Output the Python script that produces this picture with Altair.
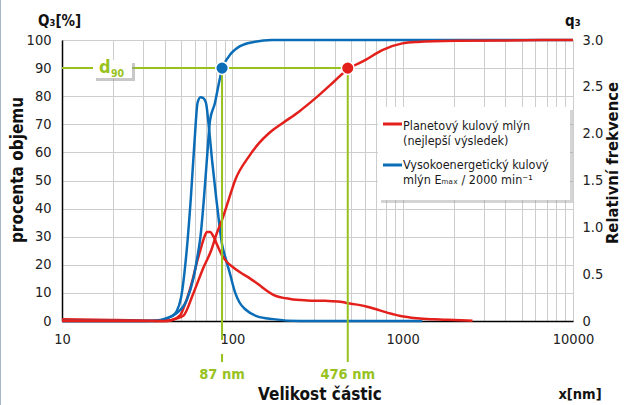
import altair as alt
import pandas as pd

# ---------------- data ----------------
# cumulative distribution Q3 [%]
blue_Q3_x = [10, 36, 41, 47, 54, 59, 62, 65, 68, 71, 74, 79, 83, 87, 95, 111, 136, 171, 10000]
blue_Q3_y = [0, 0, 1, 2.7, 7.5, 15, 22, 30, 43, 58, 71.5, 77.5, 84, 89.6, 94, 97.8, 99.4, 100, 100]

red_Q3_x = [10, 40, 44, 48, 52, 59, 68, 75, 81, 87, 95, 104, 125, 143, 164, 196, 246, 308, 386,
            476, 606, 759, 995, 1219, 2090, 10000]
red_Q3_y = [0, 0, 0.3, 1, 2.1, 9.8, 19.3, 25, 31.2, 36, 43, 50.2, 58.5, 63.2, 66.8, 70.3, 74.5,
            79.3, 84.6, 89.6, 92.9, 96.4, 98.8, 99.3, 99.7, 100]

# relative frequency q3
blue_q3_x = [10, 30, 38, 44, 47, 50, 54, 57, 60, 62.5, 65, 67.5, 70, 73, 76, 80, 83, 87, 91, 97,
             104, 110, 120, 140, 174, 250, 500, 1300]
blue_q3_y = [0, 0, 0.01, 0.05, 0.1, 0.25, 0.76, 1.3, 1.92, 2.33, 2.39, 2.38, 2.33, 2.05, 1.72,
             1.35, 1.1, 0.82, 0.68, 0.5, 0.3, 0.2, 0.12, 0.05, 0.02, 0, 0, 0]

red_q3_x = [10, 20, 30, 40, 44, 49.5, 52, 56, 59, 62, 65, 68, 71, 74, 77.6, 82, 87, 93, 100, 111,
            128, 140, 174, 219, 275, 350, 431, 476, 540, 619, 700, 776, 870, 972, 1219, 1527,
            2000, 2570]
red_q3_y = [0.02, 0.012, 0.005, 0.0, 0.01, 0.064, 0.15, 0.32, 0.47, 0.63, 0.76, 0.88, 0.95,
            0.95, 0.9, 0.8, 0.7, 0.63, 0.58, 0.52, 0.45, 0.4, 0.28, 0.235, 0.22, 0.215, 0.206,
            0.19, 0.175, 0.153, 0.125, 0.1, 0.075, 0.053, 0.029, 0.018, 0.01, 0.003]

d90_values = [87, 476]
d90_level = [90]
d90_labels = ["87 nm", "476 nm"]
x_ticks = [10, 100, 1000, 10000]
left_ticks = list(range(0, 101, 10))
right_ticks = [0, 0.5, 1.0, 1.5, 2.0, 2.5, 3.0]
legend_labels = ["Planetový kulový mlýn", "(nejlepší výsledek)",
                 "Vysokoenergetický kulový", "mlýn Eₘₐₓ / 2000 min⁻¹"]

# ---------------- style ----------------
RED = "#e3201b"
BLUE = "#0b6db7"
GREEN = "#97c21e"
GRID = "#cdcdcd"
FONT = "DejaVu Sans Condensed, DejaVu Sans, sans-serif"
W, H = 511, 281

grid_vals = [d * 10 ** k for k in range(1, 4) for d in range(1, 10)] + [10000]
xscale = alt.Scale(type="log", domain=[10, 10000], nice=False)
yL = alt.Scale(domain=[0, 100], nice=False, zero=True)
yR = alt.Scale(domain=[0, 3], nice=False, zero=True)

x_axis = alt.Axis(values=grid_vals, grid=True, gridColor=GRID, gridWidth=1, ticks=False,
                  domain=True, domainColor="#000000", domainWidth=1.5, format="d",
                  labelExpr="indexof([10,100,1000,10000], datum.value) >= 0 ? datum.label : ''",
                  labelOverlap=False, labelFlush=False, labelFont=FONT, labelFontSize=14.5,
                  labelColor="#222222", labelPadding=11, title=None)
yl_axis = alt.Axis(values=left_ticks, grid=True, gridColor=GRID, gridWidth=1, ticks=False,
                   domain=True, domainColor="#000000", domainWidth=1.5, labelFont=FONT,
                   labelFontSize=14.5, labelColor="#222222", labelPadding=11, title=None,
                   labelFlush=False, labelOverlap=False, tickCount=11)
yr_axis = alt.Axis(orient="right", values=right_ticks, grid=False, ticks=False, domain=False,
                   labelExpr="datum.value == 0 ? '0' : format(datum.value, '.1f')",
                   labelFont=FONT, labelFontSize=14.5, labelColor="#222222", labelPadding=9,
                   title=None, labelFlush=False, labelOverlap=False)


def line(xs, ys, color, yscale, yaxis, xaxis=x_axis):
    df = pd.DataFrame({"x": xs, "y": ys})
    return alt.Chart(df).mark_line(color=color, strokeWidth=2.5, interpolate="monotone").encode(
        x=alt.X("x:Q", scale=xscale, axis=xaxis),
        y=alt.Y("y:Q", scale=yscale, axis=yaxis),
    )


one = pd.DataFrame({"a": [0]})
Xs = lambda f: alt.X(f, scale=xscale, axis=x_axis)
Ys = lambda f: alt.Y(f, scale=yL, axis=yl_axis)

# green d90 guides
hdf = pd.DataFrame({"x1": [10], "x2": [d90_values[1]], "y": d90_level})
hline = alt.Chart(hdf).mark_rule(color=GREEN, strokeWidth=2).encode(
    x=Xs("x1:Q"), x2="x2:Q", y=Ys("y:Q"))
vdf = pd.DataFrame({"x": d90_values, "y": d90_level * 2, "lab": d90_labels})
vline87 = alt.Chart(vdf.iloc[[0]]).mark_rule(color=GREEN, strokeWidth=2).encode(
    x=Xs("x:Q"), y=Ys("y:Q"), y2=alt.value(300))
vline87b = alt.Chart(vdf.iloc[[0]]).mark_rule(color=GREEN, strokeWidth=2).encode(
    x=Xs("x:Q"), y=alt.value(314), y2=alt.value(322))
vline476 = alt.Chart(vdf.iloc[[1]]).mark_rule(color=GREEN, strokeWidth=2).encode(
    x=Xs("x:Q"), y=Ys("y:Q"), y2=alt.value(322))
vlabels = alt.Chart(vdf).mark_text(color=GREEN, font=FONT, fontSize=14.5, fontWeight="bold",
                                   baseline="middle").encode(
    x=Xs("x:Q"), y=alt.value(335), text="lab:N")

mdf = pd.DataFrame({"x": d90_values, "y": d90_level * 2, "c": [BLUE, RED]})
markers = alt.Chart(mdf).mark_point(filled=True, size=160, stroke="white", strokeWidth=1.5,
                                    opacity=1, shape="circle").encode(
    x=Xs("x:Q"), y=Ys("y:Q"), fill=alt.Fill("c:N", scale=None))

# d90 box
d90_shadow = alt.Chart(one).mark_rect(color="#9a9a9a", opacity=0.55).encode(
    x=alt.value(34), x2=alt.value(73), y=alt.value(23), y2=alt.value(41))
d90_box = alt.Chart(one).mark_rect(color="white").encode(
    x=alt.value(31), x2=alt.value(70), y=alt.value(20), y2=alt.value(38))
d90_d = alt.Chart(one).mark_text(text="d", color=GREEN, font=FONT, fontSize=18,
                                 fontWeight="bold", align="left", baseline="alphabetic").encode(
    x=alt.value(37), y=alt.value(33))
d90_sub = alt.Chart(one).mark_text(text="90", color=GREEN, font=FONT, fontSize=10.5,
                                   fontWeight="bold", align="left", baseline="alphabetic").encode(
    x=alt.value(49), y=alt.value(37))

# legend
leg_shadow = alt.Chart(one).mark_rect(color="#a0a0a0", opacity=0.45).encode(
    x=alt.value(319), x2=alt.value(511), y=alt.value(70), y2=alt.value(163))
leg_box = alt.Chart(one).mark_rect(color="white").encode(
    x=alt.value(316), x2=alt.value(508), y=alt.value(67), y2=alt.value(160))
leg_red = alt.Chart(one).mark_rule(color=RED, strokeWidth=3).encode(
    x=alt.value(321), x2=alt.value(340), y=alt.value(84))
leg_blue = alt.Chart(one).mark_rule(color=BLUE, strokeWidth=3).encode(
    x=alt.value(321), x2=alt.value(340), y=alt.value(125))
leg_texts = [
    alt.Chart(one).mark_text(text=t, font=FONT, fontSize=12.5, color="#1a1a1a", align="left",
                             baseline="middle").encode(x=alt.value(341), y=alt.value(yy))
    for t, yy in zip(legend_labels, [86, 101, 125, 140])
]


def txt(t, x, y, size, angle=0, align="center", weight="bold", color="#111111"):
    return alt.Chart(one).mark_text(text=t, font=FONT, fontSize=size, fontWeight=weight,
                                    angle=angle, align=align, baseline="middle",
                                    color=color).encode(x=alt.value(x), y=alt.value(y))


titles = [
    txt("Q₃[%]", -24, -19, 15, align="left"),
    txt("q₃", 503, -19, 15, align="left"),
    txt("procenta objemu", -44, 130, 17, angle=270),
    txt("Relativní frekvence", 551, 123, 16.5, angle=270),
    txt("Velikost částic", 258, 355, 17),
    txt("x[nm]", 518, 355, 14.5),
]

border = alt.Chart(one).mark_rule(color="#a9b6c4", strokeWidth=1).encode(
    x=alt.value(-61.5), y=alt.value(-40), y2=alt.value(365))

right_group = alt.layer(
    line(blue_q3_x, blue_q3_y, BLUE, yR, yr_axis),
    line(red_q3_x, red_q3_y, RED, yR, yr_axis),
)
left_group = alt.layer(
    line(blue_Q3_x, blue_Q3_y, BLUE, yL, yl_axis),
    line(red_Q3_x, red_Q3_y, RED, yL, yl_axis),
    hline, vline87, vline87b, vline476, vlabels, markers,
    d90_shadow, d90_box, d90_d, d90_sub,
    leg_shadow, leg_box, leg_red, leg_blue, *leg_texts, border, *titles,
)

chart = alt.layer(right_group, left_group).resolve_scale(y="independent").properties(
    width=W, height=H,
    autosize=alt.AutoSizeParams(type="none"),
    padding={"left": 62, "top": 40, "right": 54, "bottom": 84},
).configure_view(stroke=None).configure(background="white")

chart.save("out.html", embed_options={"renderer": "svg", "actions": False})
